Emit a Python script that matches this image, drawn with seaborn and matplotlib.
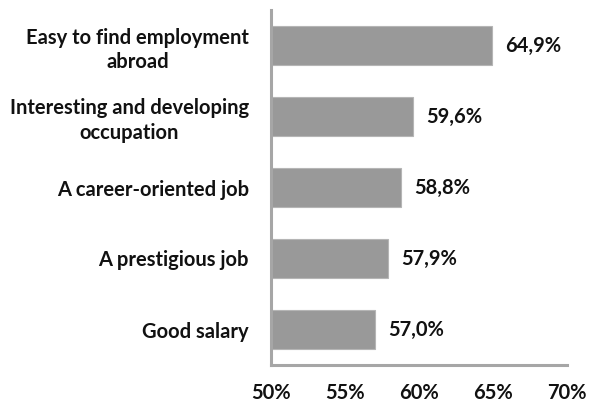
import matplotlib
matplotlib.use("Agg")
import matplotlib.pyplot as plt
import seaborn as sns
import pandas as pd

categories = [
    "Easy to find employment\nabroad",
    "Interesting and developing\noccupation",
    "A career-oriented job",
    "A prestigious job",
    "Good salary",
]
values = [64.9, 59.6, 58.8, 57.9, 57.0]
tick_values = [50, 55, 60, 65, 70]
tick_labels = ["50%", "55%", "60%", "65%", "70%"]

sns.set_style("white")
plt.rcParams["font.family"] = ["Lato", "DejaVu Sans"]
plt.rcParams["font.weight"] = "bold"

df = pd.DataFrame({"reason": categories, "share": values})

fig = plt.figure(figsize=(5.89, 4.03), dpi=100)
ax = fig.add_axes([271 / 589, 1 - 365 / 403, (567 - 271) / 589, (365 - 10) / 403])

sns.barplot(data=df, x="share", y="reason", orient="h", color="#999999",
            saturation=1, width=0.56, edgecolor="#b5b5b5", linewidth=0.8, ax=ax)

ax.set_xlim(50, 70)
ax.set_ylim(4.5, -0.5)
ax.set_xticks(tick_values)
ax.set_xticklabels(tick_labels)
ax.set_xlabel("")
ax.set_ylabel("")
ax.tick_params(axis="x", length=0, pad=13, labelsize=14.5, labelcolor="#111111")
ax.tick_params(axis="y", length=0, pad=16, labelsize=14.5, labelcolor="#111111")
for lbl in ax.get_yticklabels():
    lbl.set_multialignment("center")
    lbl.set_linespacing(1.3)

for side in ("top", "right"):
    ax.spines[side].set_visible(False)
for side in ("left", "bottom"):
    ax.spines[side].set_color("#a6a6a6")
    ax.spines[side].set_linewidth(2.2)

for i, v in enumerate(values):
    ax.text(v + 0.9, i, f"{v:.1f}%".replace(".", ","), va="center", ha="left",
            fontsize=14.5, fontweight="bold", color="#111111")

fig.savefig("out.png", dpi=100)
